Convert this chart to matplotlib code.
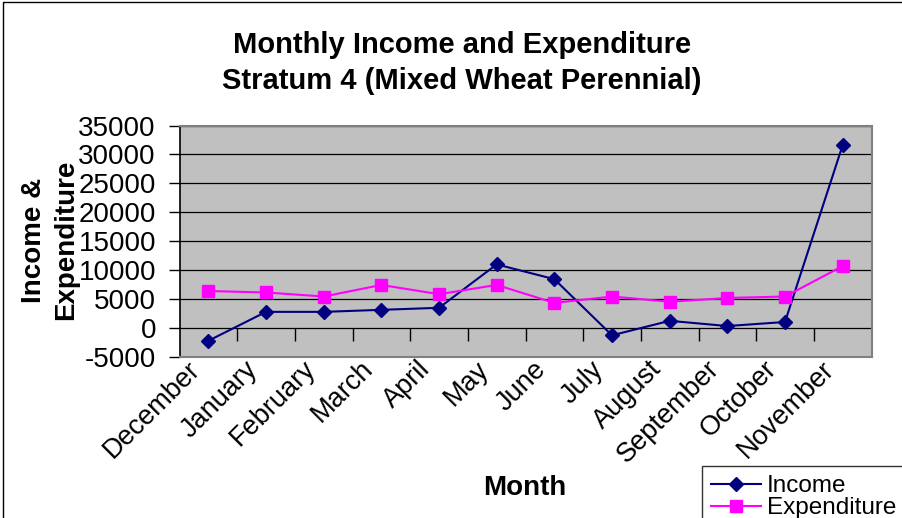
import matplotlib
matplotlib.use("Agg")
import matplotlib.pyplot as plt
from matplotlib.patches import Rectangle
from matplotlib.transforms import ScaledTranslation

plt.rcParams['font.family'] = ['Liberation Sans', 'DejaVu Sans']

months = ["December", "January", "February", "March", "April", "May",
          "June", "July", "August", "September", "October", "November"]
income = [-2200, 2800, 2800, 3150, 3500, 11000, 8450, -1250, 1250, 350, 1050, 31600]
expenditure = [6400, 6150, 5450, 7450, 5850, 7450, 4350, 5450, 4550, 5200, 5450, 10700]
yticks = [-5000, 0, 5000, 10000, 15000, 20000, 25000, 30000, 35000]
ymin, ymax = -5000, 35000

fig = plt.figure(figsize=(9.02, 5.18), dpi=100)
ax = fig.add_axes([179.5/902, 1-357/518, (871.5-179.5)/902, (357-125.5)/518])
ax.set_facecolor('#C0C0C0')

x = list(range(len(months)))
ax.plot(x, income, color='#000080', lw=1.5, marker='D', ms=7.5, label='Income', zorder=3)
ax.plot(x, expenditure, color='#FF00FF', lw=1.5, marker='s', ms=9, label='Expenditure', zorder=3)

ax.set_xlim(-0.5, 11.5)
ax.set_ylim(ymin, ymax)
ax.set_yticks(yticks)
ax.set_yticklabels([str(v) for v in yticks], fontsize=20)
ax.yaxis.grid(True, color='black', lw=0.9)
ax.set_axisbelow(True)

ax.set_xticks(x)
ax.set_xticklabels(months, fontsize=19.5, rotation=45, ha='right', va='top')
ax.tick_params(axis='x', which='major', length=0, pad=0)
ax.tick_params(axis='y', length=8, width=1, pad=9)
for lab in ax.get_xticklabels():
    lab.set_transform(lab.get_transform() + ScaledTranslation(-3/100, 1/100, fig.dpi_scale_trans))

# category axis crosses the value axis at 0: tick marks hang from the zero line
sec = ax.secondary_xaxis((0 - ymin) / (ymax - ymin))
sec.set_xticks([i + 0.5 for i in range(0, 11)])
sec.tick_params(axis='x', length=9, width=1, direction='out', labelbottom=False, color='black')
sec.spines['bottom'].set_visible(False)

for s in ['top', 'right', 'bottom']:
    ax.spines[s].set_color('#808080')
    ax.spines[s].set_linewidth(1.5)
ax.spines['left'].set_color('black')
ax.spines['left'].set_linewidth(1.2)

fig.text(0.512, 1-45/518, "Monthly Income and Expenditure", fontsize=21, fontweight='bold',
         ha='center', va='center')
fig.text(0.512, 1-81/518, "Stratum 4 (Mixed Wheat Perennial)", fontsize=21, fontweight='bold',
         ha='center', va='center')
fig.text(50/902, 1-240/518, "Income &\nExpenditure", fontsize=20, fontweight='bold',
         rotation=90, ha='center', va='center', linespacing=1.3)
fig.text(525/902, 1-488/518, "Month", fontsize=20, fontweight='bold', ha='center', va='center')

leg = fig.legend(loc='upper left', bbox_to_anchor=(701.5/902, 1-465.5/518), borderaxespad=0,
                 fontsize=17.5, frameon=True, fancybox=False, handlelength=2.05,
                 labelspacing=0.0, borderpad=0.4, handletextpad=0.25)
leg.get_frame().set_edgecolor('black')
leg.get_frame().set_linewidth(1.0)

fig.add_artist(Rectangle((2.5/902, -0.1), 1.1, 1.1 - 2.5/518, transform=fig.transFigure,
                         fill=False, edgecolor='black', lw=1.0))

fig.savefig("out.png", dpi=100)
